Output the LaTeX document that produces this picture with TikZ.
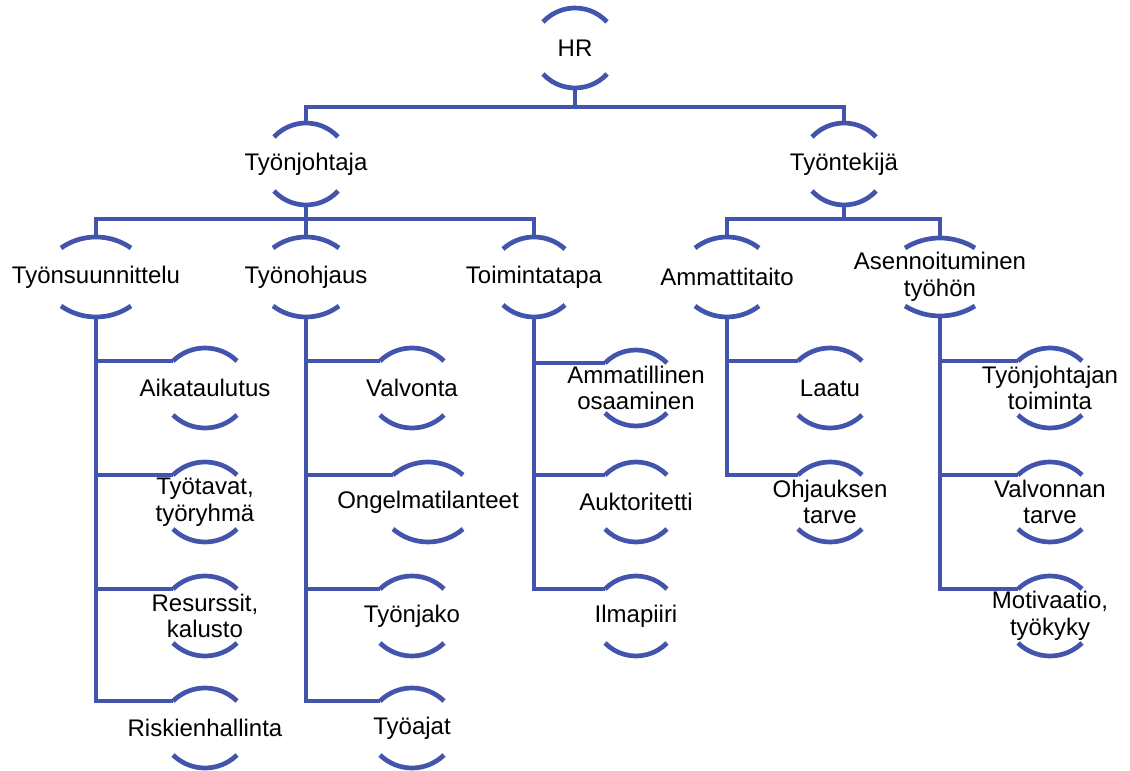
\documentclass[tikz,border=0pt]{standalone}
\usepackage{fontspec}
\setmainfont{Liberation Sans}
\definecolor{bl}{RGB}{66,84,172}
\tikzset{
  lbl/.style={font=\fontsize{24}{26.5}\selectfont, align=center, inner sep=0pt, text=black},
  arcl/.style={draw=bl, line width=4.7pt},
  conn/.style={draw=bl, line width=4.7pt, line join=miter},
}
% name, x, y (px from top), half chord, sagitta, half height, text
\newcommand\mybub[7]{%
  \node[lbl] (#1) at (#2,771-#3) {#7};
  \pgfmathsetmacro\myR{(#4*#4+#5*#5)/(2*#5)}%
  \pgfmathsetmacro\myA{asin(#4/\myR)}%
  \draw[arcl] (#2-#4, 771-#3+#6-#5) arc[start angle=90+\myA, end angle=90-\myA, radius=\myR];
  \draw[arcl] (#2-#4, 771-#3-#6+#5) arc[start angle=270-\myA, end angle=270+\myA, radius=\myR];
  \coordinate (#1-t) at (#2, 771-#3+#6);
  \coordinate (#1-b) at (#2, 771-#3-#6);
  \coordinate (#1-l) at (#2-#4, 771-#3+#6-#5);
}
\begin{document}
\begin{tikzpicture}[x=1pt,y=1pt]
\useasboundingbox (0,0) rectangle (1130,771);
% nodes
\mybub{hr}{575}{48}{32}{14}{40}{HR}
\mybub{tj}{306}{164}{32}{14}{41}{Työnjohtaja}
\mybub{tk}{844}{164}{32}{14}{41}{Työntekijä}
\mybub{tsu}{96}{277}{35}{11}{40}{Työnsuunnittelu}
\mybub{tjo}{306}{277}{33}{11}{40}{Työnohjaus}
\mybub{tti}{534}{277}{31}{12}{40}{Toimintatapa}
\mybub{amm}{727}{277}{32}{11}{40}{Ammattitaito}
\mybub{ase}{940}{277}{35}{10}{39}{Asennoituminen\\työhön}
% column 1
\mybub{aik}{205}{388}{32}{13}{40}{Aikataulutus}
\mybub{tta}{205}{502}{32}{13}{40}{Työtavat,\\työryhmä}
\mybub{res}{205}{616}{32}{13}{40}{Resurssit,\\kalusto}
\mybub{ris}{205}{728}{32}{13}{40}{Riskienhallinta}
% column 2
\mybub{val}{412}{388}{32}{13}{40}{Valvonta}
\mybub{ong}{428}{502}{35}{13}{40}{Ongelmatilanteet}
\mybub{tjk}{412}{616}{32}{13}{40}{Työnjako}
\mybub{tya}{412}{728}{32}{13}{40}{Työajat}
% column 3
\mybub{amo}{636}{388}{31}{13}{38}{Ammatillinen\\osaaminen}
\mybub{auk}{636}{502}{31}{13}{40}{Auktoritetti}
\mybub{ilm}{636}{616}{31}{13}{40}{Ilmapiiri}
% column 4
\mybub{laa}{830}{388}{32}{13}{40}{Laatu}
\mybub{ohj}{830}{502}{32}{13}{40}{Ohjauksen\\tarve}
% column 5
\mybub{tjt}{1050}{388}{32}{13}{40}{Työnjohtajan\\toiminta}
\mybub{vat}{1050}{502}{32}{13}{40}{Valvonnan\\tarve}
\mybub{mot}{1050}{616}{32}{13}{40}{Motivaatio,\\työkyky}
% buses
\coordinate (bus1) at (575,771-107);
\coordinate (bus2) at (306,771-219);
\coordinate (bus3) at (844,771-219);
% connectors
\draw[conn] (hr-b) -- (bus1);
\draw[conn] (tj-t) |- (bus1) -| (tk-t);
\draw[conn] (tj-b) -- (tjo-t);
\draw[conn] (tsu-t) |- (bus2) -| (tti-t);
\draw[conn] (tk-b) -- (bus3);
\draw[conn] (amm-t) |- (bus3) -| (ase-t);
\draw[conn] (tsu-b) |- (aik-l);
\draw[conn] (tsu-b) |- (tta-l);
\draw[conn] (tsu-b) |- (res-l);
\draw[conn] (tsu-b) |- (ris-l);
\draw[conn] (tjo-b) |- (val-l);
\draw[conn] (tjo-b) |- (ong-l);
\draw[conn] (tjo-b) |- (tjk-l);
\draw[conn] (tjo-b) |- (tya-l);
\draw[conn] (tti-b) |- (amo-l);
\draw[conn] (tti-b) |- (auk-l);
\draw[conn] (tti-b) |- (ilm-l);
\draw[conn] (amm-b) |- (laa-l);
\draw[conn] (amm-b) |- (ohj-l);
\draw[conn] (ase-b) |- (tjt-l);
\draw[conn] (ase-b) |- (vat-l);
\draw[conn] (ase-b) |- (mot-l);
\end{tikzpicture}
\end{document}
